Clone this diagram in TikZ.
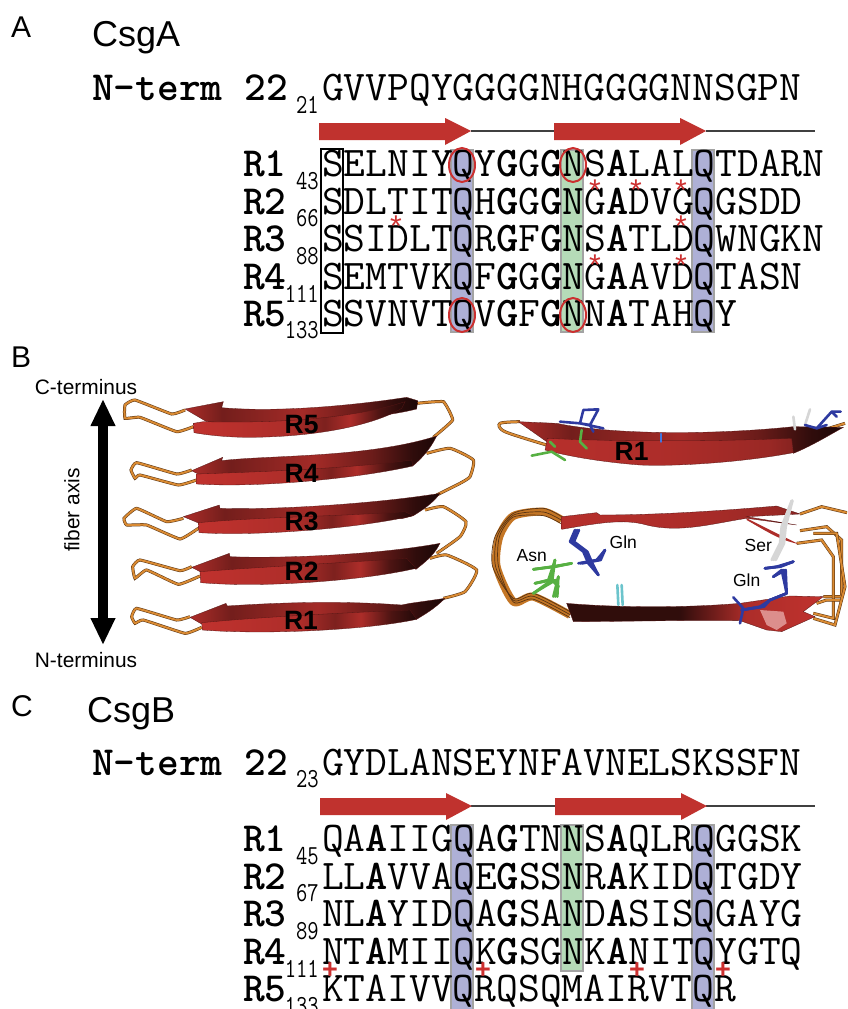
\documentclass[tikz,border=0pt]{standalone}
\usepackage{fontspec}
\setmainfont{Liberation Sans}
\usetikzlibrary{arrows.meta}
\definecolor{bandblue}{HTML}{AEB0D6}
\definecolor{bandgreen}{HTML}{B5DBB8}
\definecolor{bandedge}{HTML}{A3A3A3}
\definecolor{arrowred}{HTML}{C0322E}
\definecolor{markred}{HTML}{CC3030}
\definecolor{loopor}{HTML}{D98A32}
\definecolor{loopmid}{HTML}{C47625}
\definecolor{loopdk}{HTML}{5A3413}
\definecolor{stickblue}{HTML}{2E3AA0}
\definecolor{stickgreen}{HTML}{57B043}
\definecolor{stickgray}{HTML}{D6D6D6}
\definecolor{stickcyan}{HTML}{6CC4CC}
\pgfdeclarehorizontalshading{riblow}{100bp}{color(0bp)=(arrowred); color(25bp)=(arrowred); color(48bp)=(arrowred!90!black); color(56bp)=(arrowred!65!black); color(62bp)=(arrowred!90!black); color(69bp)=(arrowred!40!black); color(75bp)=(arrowred!18!black); color(100bp)=(arrowred!18!black)}
\pgfdeclarehorizontalshading{ribtop}{100bp}{color(0bp)=(arrowred); color(25bp)=(arrowred!90!black); color(33bp)=(arrowred!60!black); color(50bp)=(arrowred!85!black); color(62bp)=(arrowred!55!black); color(70bp)=(arrowred!25!black); color(75bp)=(arrowred!15!black); color(100bp)=(arrowred!15!black)}
\pgfdeclarehorizontalshading{ribflat}{100bp}{color(0bp)=(arrowred); color(25bp)=(arrowred!95!black); color(50bp)=(arrowred!90!black); color(70bp)=(arrowred!80!black); color(75bp)=(arrowred!70!black); color(100bp)=(arrowred!70!black)}
\pgfdeclarehorizontalshading{ribdark}{100bp}{color(0bp)=(arrowred!25!black); color(25bp)=(arrowred!25!black); color(47bp)=(arrowred!25!black); color(60bp)=(arrowred!90!black); color(75bp)=(arrowred); color(100bp)=(arrowred)}
\newcommand\seqfont{\ttfamily\fontsize{42.3}{43}\selectfont}
\newcommand\labfont{\ttfamily\bfseries\fontsize{41.4}{42}\selectfont}
\newcommand\numfont{\ttfamily\fontsize{22}{22}\selectfont}
\newcommand\bl[1]{{\bfseries #1}}
\tikzset{
  x=1pt,y=-1pt,
  seqtext/.style={anchor=base west,inner sep=0pt,font=\seqfont},
  headtext/.style={anchor=base west,inner sep=0pt,font=\labfont},
  numtext/.style={anchor=base east,inner sep=0pt,font=\numfont,transform shape,yscale=1.25},
  paneltag/.style={anchor=base west,inner sep=0pt,font=\fontsize{30}{30}\selectfont},
  titletext/.style={anchor=base west,inner sep=0pt,font=\fontsize{36}{36}\selectfont},
  smalltext/.style={inner sep=0pt,font=\fontsize{20.9}{21}\selectfont},
  strandlabel/.style={inner sep=0pt,font=\bfseries\fontsize{26.5}{26}\selectfont},
  residue/.style={inner sep=0pt,font=\fontsize{17.5}{17}\selectfont},
  qband/.style={draw=bandedge,line width=2pt,fill=bandblue},
  nband/.style={draw=bandedge,line width=2pt,fill=bandgreen},
  ringmark/.style={draw=markred,line width=2pt},
  starmark/.style={inner sep=0pt,text=markred,font=\fontsize{30}{30}\selectfont},
  plusmark/.style={inner sep=0pt,text=markred,font=\bfseries\fontsize{27}{27}\selectfont},
  strandarrow/.style={fill=arrowred},
  ribline/.style={draw=black!75,line width=1.2pt},
  loopline/.style={draw=loopor,line width=2pt,line join=round,preaction={draw=loopdk,line width=3pt}},
  stick/.style={line width=2.6pt,line join=round,line cap=round},
  ribout/.style={draw=arrowred!45!black,line width=.3pt},
}
\newcommand\ribbon[2]{\shade[shading=ribtop,ribout] #1; \shade[shading=riblow,ribout] #2;}
\begin{document}
\begin{tikzpicture}
\clip (0,0) rectangle (847,1009);
\fill[white] (0,0) rectangle (847,1009);
% ---------- Panel A
\node[paneltag] (tagA) at (11,37) {A};
\node[titletext] (titleA) at (92,46) {CsgA};
\node[headtext] (ntermA) at (92,100) {N-term 22};
\node[numtext] (n21) at (319,113) {21};
\node[seqtext] (seqA) at (322,100) {GVVPQYGGGGNHGGGGNNSGPN};
\draw[ribline] (471,131) coordinate (aL1) -- (554,131) coordinate (aL2);
\draw[ribline] (706,131) coordinate (aL3) -- (815,131) coordinate (aL4);
\fill[strandarrow] (319,123) -- (445,123) -- (445,118) -- (471,131) -- (445,145) -- (445,140) -- (319,140) -- cycle;
\fill[strandarrow] (554,123) -- (680,123) -- (680,118) -- (706,131) -- (680,145) -- (680,140) -- (554,140) -- cycle;
\draw[qband] (451,150) rectangle (473,332);
\draw[nband] (561,150) rectangle (583,332);
\draw[qband] (692,150) rectangle (714,332);
\node[seqtext] (a1) at (322,176) {SELNIYQY\bl{G}G\bl{G}NS\bl{A}LALQTDARN};
\node[seqtext] (a2) at (322,214) {SDLTITQH\bl{G}G\bl{G}NG\bl{A}DVGQGSDD};
\node[seqtext] (a3) at (322,251) {SSIDLTQR\bl{G}F\bl{G}NS\bl{A}TLDQWNGKN};
\node[seqtext] (a4) at (322,289) {SEMTVKQF\bl{G}G\bl{G}NG\bl{A}AVDQTASN};
\node[seqtext] (a5) at (322,326) {SSVNVTQV\bl{G}F\bl{G}NN\bl{A}TAHQY};
\foreach \t/\y in {R1/176,R2/214,R3/251,R4/289,R5/326}
  \node[headtext] (lab\t a) at (243,\y) {\t};
\foreach \t/\y in {43/189,66/226,88/264,111/302,133/338}
  \node[numtext] (num\t) at (319,\y) {\t};
\draw[line width=2pt] (321,149) rectangle (343,333);
\draw[ringmark] (462,165) ellipse (13 and 17);
\draw[ringmark] (573,165) ellipse (13 and 17);
\draw[ringmark] (462,315) ellipse (13 and 17);
\draw[ringmark] (573,315) ellipse (13 and 17);
\foreach \x/\y [count=\i] in {595/190,636/190,681/190,396/226,681/226,595/265,681/265}
  \node[starmark] (star\i) at (\x,\y) {*};
% ---------- Panel B left
\node[paneltag] (tagB) at (11,367) {B};
\node[smalltext] (cterm) at (86,387) {C-terminus};
\node[smalltext] (nterm) at (86,660) {N-terminus};
\node[smalltext,rotate=90] (axis) at (72,510) {fiber axis};
\coordinate (axT) at (103,399);
\coordinate (axB) at (103,645);
\draw[line width=9.5pt,{Triangle[width=23pt,length=27pt]}-{Triangle[width=23pt,length=27pt]}] (axT) -- (axB);
\begin{scope}[shift={(0,340)},x=.33333pt,y=-.33333pt]
 % R5
 \draw[loopline] plot[smooth,tension=.2] coordinates {(555,210) (515,222) (405,180) (375,195) (375,235) (420,232) (530,275) (580,260)};
 \draw[loopline] plot[smooth,tension=.2] coordinates {(1250,190) (1330,185) (1358,240) (1300,292)};
 \ribbon{(555,207) -- (670,185) -- (665,203) .. controls (800,215) and (1000,205) .. (1220,172) -- (1253,182) -- (1250,207) .. controls (1100,245) and (800,255) .. (620,245) -- cycle}
  {(580,250) -- (610,245) .. controls (800,250) and (1050,240) .. (1215,185) -- (1205,205) .. controls (1150,240) and (1000,290) .. (750,292) .. controls (680,292) and (620,285) .. (582,278) -- cycle}
 % R4
 \draw[loopline] plot[smooth,tension=.2] coordinates {(575,390) (530,402) (410,368) (393,390) (405,415) (420,405) (535,435) (590,420)};
 \draw[loopline] plot[smooth,tension=.3] coordinates {(1280,340) (1350,325) (1420,360) (1410,410) (1380,430) (1310,465)};
 \ribbon{(575,392) -- (668,352) -- (665,362) .. controls (800,345) and (1100,355) .. (1310,288) .. controls (1290,330) and (1260,360) .. (1238,378) -- (1235,370) .. controls (1100,385) and (800,395) .. (600,405) -- cycle}
  {(590,402) .. controls (800,395) and (1050,385) .. (1235,360) -- (1238,378) .. controls (1100,410) and (800,445) .. (590,432) -- cycle}
 % R3
 \draw[loopline] plot[smooth,tension=.2] coordinates {(550,535) (500,545) (410,505) (372,535) (380,555) (440,555) (540,597) (595,565)};
 \draw[loopline] plot[smooth,tension=.3] coordinates {(1275,510) (1330,500) (1398,545) (1380,590) (1310,640)};
 \ribbon{(550,530) -- (658,495) -- (660,505) .. controls (800,510) and (1100,495) .. (1320,460) .. controls (1300,490) and (1260,515) .. (1240,527) -- (1210,535) .. controls (1000,540) and (800,540) .. (610,555) -- cycle}
  {(595,548) .. controls (800,530) and (1000,530) .. (1215,515) -- (1240,527) .. controls (1100,560) and (800,590) .. (597,578) -- cycle}
 % R2
 \draw[loopline] plot[smooth,tension=.2] coordinates {(575,680) (540,692) (420,660) (398,680) (405,715) (440,690) (535,733) (600,708)};
 \draw[loopline] plot[smooth,tension=.3] coordinates {(1290,655) (1340,645) (1430,690) (1395,755) (1330,775)};
 \ribbon{(575,682) -- (688,640) -- (690,650) .. controls (800,655) and (1100,650) .. (1320,610) .. controls (1300,650) and (1270,670) .. (1248,688) -- (1215,670) .. controls (1000,680) and (800,690) .. (610,700) -- cycle}
  {(600,695) .. controls (800,680) and (1000,670) .. (1220,655) -- (1248,685) .. controls (1100,720) and (800,745) .. (602,728) -- cycle}
 % R1
 \draw[loopline] plot[smooth,tension=.2] coordinates {(570,830) (530,840) (410,805) (395,830) (405,850) (430,840) (555,880) (605,862)};
 \ribbon{(570,832) -- (678,790) -- (682,798) .. controls (800,790) and (1000,780) .. (1205,795) -- (1230,790) -- (1335,775) .. controls (1300,810) and (1270,825) .. (1250,838) -- (1230,820) .. controls (1000,830) and (800,840) .. (610,855) -- cycle}
  {(605,848) .. controls (800,830) and (1000,820) .. (1230,810) -- (1250,838) .. controls (1100,870) and (800,885) .. (607,870) -- cycle}
 \node[strandlabel] (r5) at (905,253) {R5};
 \node[strandlabel] (r4) at (905,400) {R4};
 \node[strandlabel] (r3) at (905,545) {R3};
 \node[strandlabel] (r2) at (905,693) {R2};
 \node[strandlabel] (r1) at (903,840) {R1};
\end{scope}
% ---------- Panel B right
\begin{scope}[shift={(480,370)},x=.33333pt,y=-.33333pt]
 % single strand
 \draw[loopline] plot[smooth,tension=.5] coordinates {(120,155) (60,160) (75,185) (200,225)};
 \draw[loopline] (1030,180) -- (1095,160);
 \shade[shading=ribtop,ribout] (115,155) -- (230,160) .. controls (400,195) and (700,195) .. (940,170) -- (1090,172) .. controls (1040,200) and (990,230) .. (940,250) -- (935,215) .. controls (700,225) and (400,225) .. (200,215) -- cycle;
 \shade[shading=ribflat,ribout] (202,205) .. controls (400,215) and (700,215) .. (935,205) -- (940,248) .. controls (800,275) and (600,290) .. (480,285) .. controls (350,275) and (250,255) .. (195,240) -- cycle;
 \draw[stick,stickgreen] (155,257) -- (215,245) -- (255,270);
 \draw[stick,stickgreen] (210,215) -- (225,230);
 \draw[stick,stickgreen] (305,180) -- (300,215) -- (320,235);
 \draw[stick,stickblue] (240,155) -- (300,160) -- (310,120) -- (355,118) -- (330,165) -- (300,160) -- (370,175);
 \draw[stick,stickblue] (330,165) -- (340,185);
 \draw[stick,stickgray] (940,140) -- (945,178);
 \draw[stick,stickgray] (990,118) -- (975,165);
 \draw[stick,stickblue] (975,165) -- (1010,175) -- (1055,125) -- (1082,125);
 \draw[stick,stickblue] (1055,125) -- (1070,140);
 \draw[stick,stickblue] (1010,175) -- (1040,165);
 \draw[stick,stickcyan!60!blue] (543,192) -- (543,215);
 \node[strandlabel] (r1b) at (455,245) {R1};
 % end-on stack: loops
 \draw[loopmid,line width=8pt,line join=round] plot[smooth,tension=.45] coordinates {(245,450) (190,425) (100,438) (58,500) (50,590) (100,695) (160,680) (270,735)};
 \foreach \d in {0,11,22}{
  \draw[loopdk,line width=.7pt] plot[smooth,tension=.45] coordinates {(245,440+\d) (190,415+\d) (100,430+\d*.5) (45+\d*.6,500) (38+\d*.8,590) (100,685+\d*.5) (160,670+\d*.8) (270,725+\d*.8)};
 }
 \draw[loopline] plot coordinates {(960,432) (1025,410) (1101,428)};
 \draw[loopline] plot coordinates {(960,482) (1040,470) (1085,510) (1085,680) (1030,680)};
 \draw[loopline] plot coordinates {(950,520) (1025,510) (1060,560) (1060,745) (1000,730)};
 \draw[loopline] plot coordinates {(1010,700) (1040,690) (1085,690)};
 \draw[loopline] plot coordinates {(1000,745) (1065,765) (1095,650) (1070,490) (1000,490)};
 % strands
 \shade[shading=ribflat,ribout] (245,440) -- (350,428) -- (360,435) .. controls (550,435) and (750,420) .. (890,408) -- (960,432) -- (800,440) -- (950,465) -- (800,445) .. controls (700,460) and (600,490) .. (500,465) .. controls (430,445) and (350,460) .. (245,478) -- cycle;
 \fill[arrowred!90!black] (800,445) -- (955,522) .. controls (900,510) and (870,490) .. (800,450) -- cycle;
 \shade[shading=ribdark,ribout] (260,700) .. controls (400,712) and (600,715) .. (780,700) -- (930,678) -- (1030,680) -- (970,725) -- (1005,740) -- (905,785) -- (860,780) -- (780,752) .. controls (600,750) and (400,755) .. (280,755) -- cycle;
 \fill[arrowred!55!white] (840,720) -- (910,725) -- (920,760) -- (890,780) -- (860,765) -- cycle;
 % side chains
 \foreach \d in {0,6,12}{
  \draw[stick,stickblue] (285+\d,480) -- (270+\d,515) -- (310+\d,545) -- (325+\d,580) -- (355,615);
  \draw[stick,stickblue] (295+\d,580) -- (350+\d,570) -- (375,540);
 }
 \foreach \d in {0,6,12}{
  \draw[stick,stickgreen] (160,598) -- (215+\d,590) -- (275,580);
  \draw[stick,stickgreen] (225,570) -- (205+\d,630) -- (165,640);
  \draw[stick,stickgreen] (235,650) -- (215+\d,630) -- (160,670);
  \draw[stick,stickgreen] (235,620) -- (220+\d,680);
 }
 \foreach \d in {0,6,12}{
  \draw[stick,stickgray] (935+\d*.2,392) -- (905+\d,470) -- (900+\d,520) -- (875+\d,570);
 }
 \foreach \d in {0,6,12}{
  \draw[stick,stickblue] (855,595) -- (890+\d,590) -- (940,575);
  \draw[stick,stickblue] (880,620) -- (905+\d,600) -- (920,670) -- (870,690) -- (840+\d,710) -- (785,720);
 }
 \draw[stick,stickblue] (760,682) -- (790,715) -- (780,760);
 \draw[stick,stickcyan] (412,645) -- (415,705);
 \draw[stick,stickcyan] (425,645) -- (428,705);
 \node[residue] (gln1) at (430,517) {Gln};
 \node[residue] (asn) at (155,557) {Asn};
 \node[residue] (ser) at (835,527) {Ser};
 \node[residue] (gln2) at (800,632) {Gln};
\end{scope}
% ---------- Panel C
\node[paneltag] (tagC) at (11,716) {C};
\node[titletext] (titleC) at (87,722) {CsgB};
\node[headtext] (ntermC) at (92,775) {N-term 22};
\node[numtext] (n23) at (319,787) {23};
\node[seqtext] (seqC) at (322,775) {GYDLANSEYNFAVNELSKSSFN};
\draw[ribline] (471,806) coordinate (cL1) -- (555,806) coordinate (cL2);
\draw[ribline] (706,806) coordinate (cL3) -- (815,806) coordinate (cL4);
\fill[strandarrow] (320,798) -- (446,798) -- (446,793) -- (472,806) -- (446,820) -- (446,815) -- (320,815) -- cycle;
\fill[strandarrow] (555,798) -- (681,798) -- (681,793) -- (707,806) -- (681,820) -- (681,815) -- (555,815) -- cycle;
\draw[qband] (451,825) rectangle (473,1015);
\draw[nband] (561,825) rectangle (583,971);
\draw[qband] (692,825) rectangle (714,1015);
\node[seqtext] (c1) at (322,851) {QA\bl{A}IIGQA\bl{G}TNNS\bl{A}QLRQGGSK};
\node[seqtext] (c2) at (322,889) {LL\bl{A}VVAQE\bl{G}SSNR\bl{A}KIDQTGDY};
\node[seqtext] (c3) at (322,926) {NL\bl{A}YIDQA\bl{G}SAND\bl{A}SISQGAYG};
\node[seqtext] (c4) at (322,964) {NT\bl{A}MIIQK\bl{G}SGNK\bl{A}NITQYGTQ};
\node[seqtext] (c5) at (322,1001) {KTAIVVQRQSQMAIRVTQR};
\foreach \t/\y in {R1/851,R2/889,R3/926,R4/964,R5/1001}
  \node[headtext] (lab\t c) at (243,\y) {\t};
\foreach \t/\y in {45/864,67/901,89/939,111/977,133/1014}
  \node[numtext] (numc\t) at (319,\y) {\t};
\foreach \x [count=\i] in {330,483,637,723}
  \node[plusmark] (plus\i) at (\x,971) {+};
\end{tikzpicture}
\end{document}
